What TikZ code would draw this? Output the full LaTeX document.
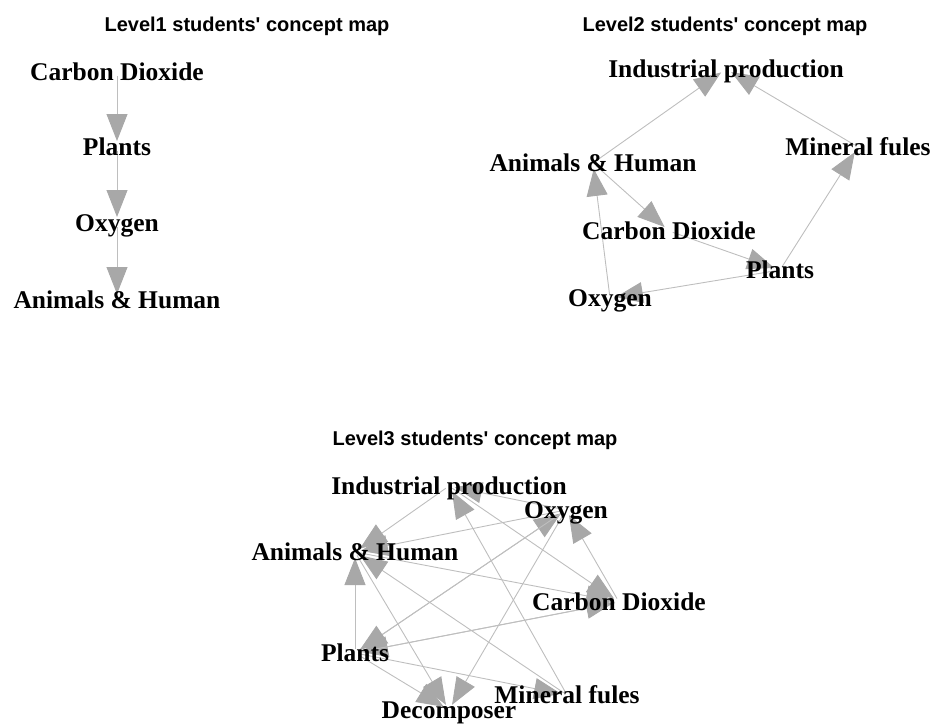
\documentclass[tikz,border=0pt]{standalone}
\usepackage{fontspec}
\setmainfont{Liberation Serif}
\setsansfont{Liberation Sans}
\usetikzlibrary{arrows.meta}
\definecolor{edgegray}{RGB}{190,190,190}
\definecolor{headgray}{RGB}{168,168,168}
\pgfdeclarelayer{edges}
\pgfsetlayers{edges,main}

\begin{document}
\begin{tikzpicture}[x=1pt, y=-1pt,
  concept/.style={font=\fontsize{25.5}{28}\selectfont\bfseries, inner sep=0pt, text height=17pt, text depth=0pt},
  maptitle/.style={font=\fontsize{20}{22}\selectfont\sffamily\bfseries, inner sep=0pt, text height=14pt, text depth=0pt},
  link/.style={draw=edgegray, line width=0.9pt, shorten >=6pt, shorten <=4pt,
    -{Triangle[length=27pt, width=21pt, color=headgray]}}]
  \useasboundingbox (0,0) rectangle (934,725);
  % Level 1
  \node[maptitle] (t1) at (247,25) {Level1 students\textquotesingle{} concept map};
  \node[concept] (cd1) at (117,72) {Carbon Dioxide};
  \node[concept] (pl1) at (117,147) {Plants};
  \node[concept] (ox1) at (117,223) {Oxygen};
  \node[concept] (ah1) at (117,300) {Animals \& Human};
  % Level 2
  \node[maptitle] (t2) at (725,25) {Level2 students\textquotesingle{} concept map};
  \node[concept] (ip2) at (726,69) {Industrial production};
  \node[concept] (mf2) at (858,147) {Mineral fules};
  \node[concept] (ah2) at (593,163) {Animals \& Human};
  \node[concept] (cd2) at (669,231) {Carbon Dioxide};
  \node[concept] (pl2) at (780,270) {Plants};
  \node[concept] (ox2) at (610,298) {Oxygen};
  % Level 3
  \node[maptitle] (t3) at (475,438) {Level3 students\textquotesingle{} concept map};
  \node[concept] (ip3) at (449,486) {Industrial production};
  \node[concept] (ox3) at (566,510) {Oxygen};
  \node[concept] (ah3) at (355,552) {Animals \& Human};
  \node[concept] (cd3) at (619,602) {Carbon Dioxide};
  \node[concept] (pl3) at (355,653) {Plants};
  \node[concept] (mf3) at (567,695) {Mineral fules};
  \node[concept] (dc3) at (449,710) {Decomposer};
  % Links below the labels
  \begin{pgfonlayer}{edges}
    \foreach \a/\b in {cd1/pl1, pl1/ox1, ox1/ah1,
      ah2/ip2, mf2/ip2, ah2/cd2, cd2/pl2, pl2/mf2, pl2/ox2, ox2/ah2,
      ip3/ah3, ox3/ip3, mf3/ip3, ip3/cd3, ox3/ah3, pl3/ox3, ox3/pl3, cd3/pl3, pl3/cd3,
      cd3/ox3, ah3/cd3, pl3/ah3, ah3/dc3, mf3/ah3, ox3/dc3, pl3/dc3, pl3/mf3}
      \draw[link] (\a.center)--(\b.center);
  \end{pgfonlayer}
\end{tikzpicture}
\end{document}
